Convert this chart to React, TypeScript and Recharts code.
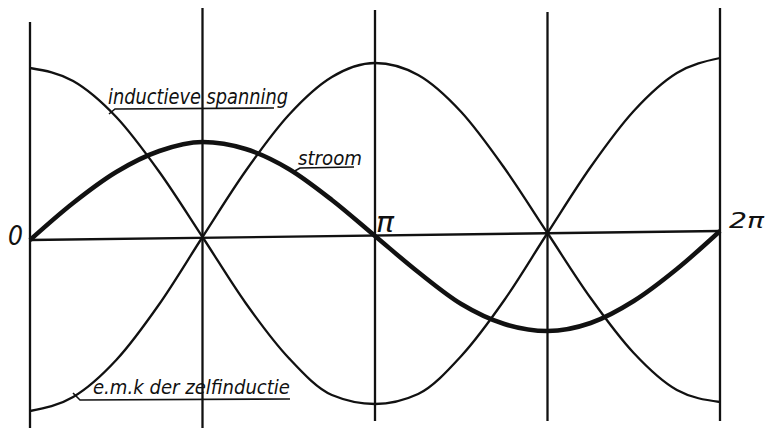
import { LineChart, Line, XAxis, YAxis, ReferenceLine } from "recharts";

// phase in quarter periods (0 = 0, 2 = π, 4 = 2π)
const phase = [0, 0.25, 0.5, 0.75, 1, 1.25, 1.5, 1.75, 2, 2.25, 2.5, 2.75, 3, 3.25, 3.5, 3.75, 4];

// values (height above the bottom edge, slightly tilted baseline)
const inductieveSpanning = [357, 344, 308, 253, 188, 122, 67, 30, 21, 31, 69, 125, 192, 258, 314, 352, 367];
const emkZelfinductie = [14, 28, 65, 121, 188, 254, 310, 348, 362, 350, 313, 257, 192, 127, 72, 35, 23];
const stroom = [185, 222, 253, 274, 283, 276, 256, 225, 189, 153, 121, 101, 94, 102, 124, 156, 194];

const gridPhases = [0, 1, 2, 3, 4];
const gridTops = [403, 417, 415, 413, 417];
const gridBottoms = [-3, -3, 4, 4, 4];

const data = phase.map((x, i) => ({
  x,
  spanning: inductieveSpanning[i],
  emk: emkZelfinductie[i],
  stroom: stroom[i],
}));

const INK = "#111";
const font = "'DejaVu Sans', sans-serif";

export default function App() {
  return (
    <div style={{ position: "absolute", left: 0, top: 0, width: 767, height: 428, background: "#fff" }}>
      <LineChart width={767} height={428} data={data} margin={{ top: 0, right: 47, bottom: 0, left: 30 }}>
        <XAxis type="number" dataKey="x" domain={[0, 4]} hide />
        <YAxis type="number" domain={[-3, 425]} hide allowDataOverflow />
        {gridPhases.map((p, i) => (
          <ReferenceLine
            key={p}
            segment={[
              { x: p, y: gridBottoms[i] },
              { x: p, y: gridTops[i] },
            ]}
            stroke={INK}
            strokeWidth={2.3}
          />
        ))}
        <ReferenceLine
          segment={[
            { x: 0, y: 185 },
            { x: 4, y: 194 },
          ]}
          stroke={INK}
          strokeWidth={2.3}
        />
        <Line type="monotone" dataKey="spanning" stroke={INK} strokeWidth={2.3} dot={false} isAnimationActive={false} />
        <Line type="monotone" dataKey="emk" stroke={INK} strokeWidth={2.3} dot={false} isAnimationActive={false} />
        <Line type="monotone" dataKey="stroom" stroke={INK} strokeWidth={4.5} dot={false} isAnimationActive={false} />
      </LineChart>

      {/* labels and leader lines */}
      <svg width={767} height={428} style={{ position: "absolute", left: 0, top: 0, pointerEvents: "none" }}>
        <g fill={INK} fontFamily={font} fontStyle="italic">
          <text x={108} y={104} fontSize={21} textLength={180} lengthAdjust="spacingAndGlyphs">inductieve spanning</text>
          <text x={93} y={394} fontSize={19} textLength={197} lengthAdjust="spacingAndGlyphs">e.m.k der zelfinductie</text>
          <text x={298} y={165} fontSize={19} textLength={64} lengthAdjust="spacingAndGlyphs">stroom</text>
          <text x={376} y={232} fontSize={28} textLength={18} lengthAdjust="spacingAndGlyphs">π</text>
          <text x={729} y={228} fontSize={22} textLength={35} lengthAdjust="spacingAndGlyphs">2π</text>
          <text x={8} y={245} fontSize={26} textLength={15} lengthAdjust="spacingAndGlyphs">0</text>
        </g>
        <g fill="none" stroke={INK} strokeWidth={1.6}>
          <polyline points="109,114 115,109 274,108" />
          <polyline points="73,393 80,400 290,399" />
          <polyline points="293,172 300,168 354,167" />
        </g>
      </svg>
    </div>
  );
}
